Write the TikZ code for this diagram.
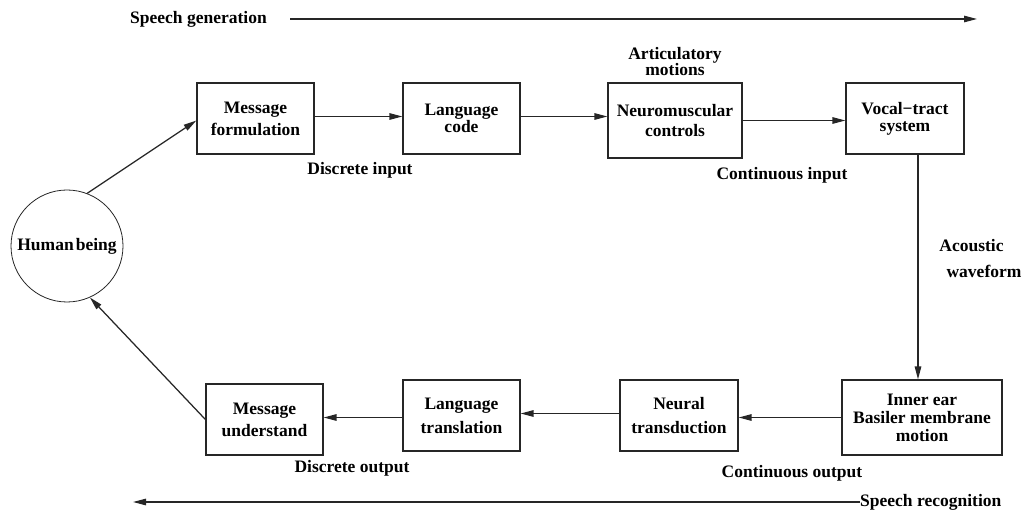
\documentclass[tikz,border=0pt]{standalone}
\usepackage{fontspec}
\setmainfont{Liberation Serif}
\usetikzlibrary{arrows.meta}
\begin{document}
\begin{tikzpicture}[x=1pt,y=-1pt,
  txt/.style={font=\bfseries\fontsize{17.5}{18}\selectfont, align=center, inner sep=0pt},
  blk/.style={txt, draw=black!85, line width=1.2pt, minimum width=117pt, minimum height=71pt},
  arr/.style={draw=black!85, line width=1.25pt, -{Triangle[length=13pt,width=6.5pt]}},
]
\useasboundingbox (0,0) rectangle (1024,510);

% speech generation chain
\node[blk] (mf) at (255.5,118.5) {Message\\[4pt]formulation};
\node[blk] (lc) at (461.5,118.5) {Language\\[-1pt]code};
\node[blk, minimum width=134pt, minimum height=75pt] (nc) at (675,120.5) {Neuromuscular\\[2pt]controls};
\node[blk, minimum width=118pt] (vt) at (905,118.5) {Vocal{\char"2212}tract\\[-1pt]system};

% speech recognition chain
\node[blk, minimum width=160pt, minimum height=75pt] (ie) at (922,417.5) {Inner ear\\Basiler membrane\\motion};
\node[blk, minimum width=118pt] (nt) at (679,415.5) {Neural\\[6pt]transduction};
\node[blk] (lt) at (461.5,415.5) {Language\\[6pt]translation};
\node[blk] (mu) at (264.5,419.5) {Message\\[4pt]understand};

% the speaker / listener
\node[txt, circle, draw=black!85, line width=0.8pt, minimum size=112pt] (hb) at (67,246) {Human\kern2pt being};

% labels
\node[txt] (am) at (675,62) {Articulatory\\[-2pt]motions};
\node[txt] (di) at (360,170) {Discrete input};
\node[txt] (ci) at (782,175) {Continuous input};
\node[txt] (ac) at (971.5,246) {Acoustic};
\node[txt] (wf) at (984,271) {waveform};
\node[txt] (co) at (792,473) {Continuous output};
\node[txt] (do) at (352,468) {Discrete output};

% direction banners
\node[txt, anchor=west] (sg) at (130,19) {Speech generation};
\coordinate (sgs) at (290,19);
\coordinate (sge) at (977,19);
\draw[arr] (sgs) -- (sge);

\node[txt, anchor=west] (sr) at (860,502) {Speech recognition};
\coordinate (sre) at (133,502);
\draw[arr] (sr.west) -- (sre);

% connectors
\draw[arr] (hb.69) -- ([yshift=-2pt]mf.west);
\draw[arr] ([yshift=2pt]mf.east) -- ([yshift=2pt]lc.west);
\draw[arr] ([yshift=2pt]lc.east) -- ([yshift=2pt]nc.west |- lc.east);
\draw[arr] (nc.east) -- (vt.west |- nc.east);
\draw[arr] ([xshift=13pt]vt.south) -- ([xshift=13pt]vt.south |- ie.north);
\draw[arr] (ie.west) -- (nt.east |- ie.west);
\draw[arr] ([yshift=2pt]nt.west) -- ([yshift=2pt]lt.east);
\draw[arr] ([yshift=-2pt]lt.west) -- ([yshift=-2pt]mu.east |- lt.west);
\draw[arr] (mu.west) -- (hb.-66);
\end{tikzpicture}
\end{document}
